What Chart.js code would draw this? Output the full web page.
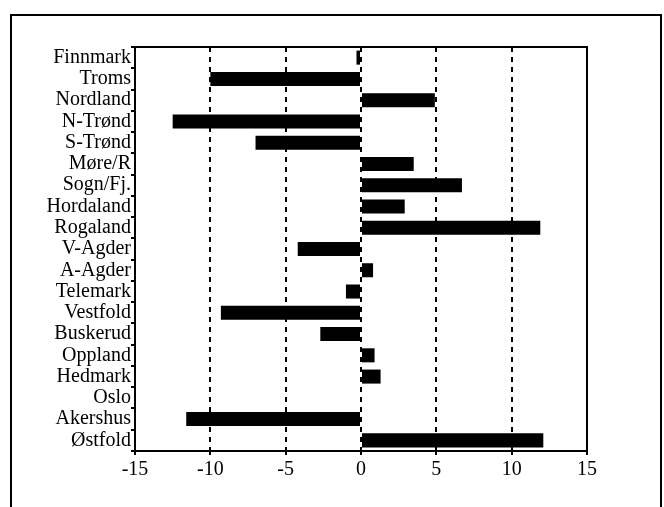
<!DOCTYPE html>
<html>
<head>
<meta charset="utf-8">
<script src="https://cdn.jsdelivr.net/npm/chart.js@4/dist/chart.umd.min.js"></script>
<style>
  html, body { margin: 0; padding: 0; background: #fff; overflow: hidden; }
  #wrap { position: relative; width: 664px; height: 507px; }
  #frame { position: absolute; left: 10px; top: 14px; width: 648px; height: 520px; border: 2px solid #000; }
  canvas { position: absolute; left: 0; top: 0; }
</style>
</head>
<body>
<div id="wrap">
  <div id="frame"></div>
  <canvas id="myChart" width="664" height="507"></canvas>
</div>
<script>
const counties = ['Finnmark', 'Troms', 'Nordland', 'N-Trønd', 'S-Trønd', 'Møre/R', 'Sogn/Fj.', 'Hordaland', 'Rogaland',
                  'V-Agder', 'A-Agder', 'Telemark', 'Vestfold', 'Buskerud', 'Oppland', 'Hedmark', 'Oslo', 'Akershus', 'Østfold']
const changes = [-0.3, -10.0, 4.9, -12.5, -7.0, 3.5, 6.7, 2.9, 11.9,
                 -4.2, 0.8, -1.0, -9.3, -2.7, 0.9, 1.3, 0, -11.6, 12.1]
const xticks = [-15, -10, -5, 0, 5, 10, 15]

const font = { family: '"Liberation Serif", "Times New Roman", serif', size: 20 }

const ctx = document.getElementById('myChart');
const myChart = new Chart(ctx, {
    type: 'bar',
    data: {
        labels: counties,
        datasets: [{
            data: changes,
            backgroundColor: '#000',
            borderWidth: 0,
            barPercentage: 0.66,
            categoryPercentage: 1
        }]
    },
    options: {
        indexAxis: 'y',
        responsive: false,
        animation: false,
        layout: {
            padding: { top: 47, right: 77, left: 0, bottom: 0 }
        },
        plugins: {
            legend: { display: false },
            tooltip: { enabled: false }
        },
        scales: {
            x: {
                min: -15,
                max: 15,
                afterBuildTicks: function (scale) {
                    scale.ticks = xticks.map(v => ({ value: v }))
                },
                afterFit: function (scale) { scale.height = 56 },
                grid: {
                    color: function (c) {
                        return (c.tick && Math.abs(c.tick.value) === 15) ? 'rgba(0,0,0,0)' : '#000'
                    },
                    tickColor: '#000',
                    lineWidth: 2,
                    tickLength: 4
                },
                border: {
                    display: true,
                    color: '#000',
                    width: 2,
                    dash: [5, 5]
                },
                ticks: {
                    color: '#000',
                    font: font,
                    padding: 3,
                    maxRotation: 0
                }
            },
            y: {
                afterFit: function (scale) { scale.width = 135 },
                grid: {
                    drawOnChartArea: false,
                    color: '#000',
                    lineWidth: 2,
                    tickLength: 4
                },
                border: { color: '#000', width: 2 },
                ticks: {
                    color: '#000',
                    font: font,
                    padding: 0,
                    autoSkip: false
                }
            }
        }
    },
    plugins: [{
        id: 'box',
        afterDraw: function (chart) {
            const a = chart.chartArea
            const c = chart.ctx
            c.save()
            c.strokeStyle = '#000'
            c.lineWidth = 2
            c.strokeRect(a.left, a.top, a.right - a.left, a.bottom - a.top)
            c.restore()
        }
    }]
});
</script>
</body>
</html>
